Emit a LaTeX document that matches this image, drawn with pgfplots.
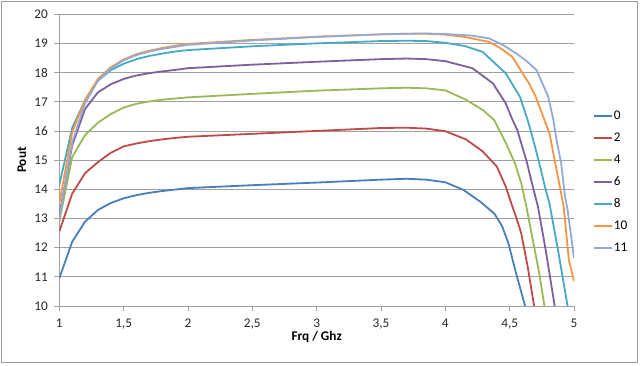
\documentclass[border=0pt]{standalone}
\usepackage{pgfplots}
\pgfplotsset{compat=1.18}
\usepackage{fontspec}
\setmainfont{Carlito}
\definecolor{s0}{HTML}{4A7EBB}
\definecolor{s2}{HTML}{BE4B48}
\definecolor{s4}{HTML}{98B954}
\definecolor{s6}{HTML}{7D60A0}
\definecolor{s8}{HTML}{46AAC5}
\definecolor{s10}{HTML}{F69544}
\definecolor{s11}{HTML}{95A9D6}
\definecolor{gridc}{HTML}{A0A0A0}
\definecolor{framec}{HTML}{999999}
\begin{document}
\begin{tikzpicture}
\useasboundingbox (0,0) rectangle (640bp,366bp);
\draw[framec, line width=0.8bp] (1.7bp,3.3bp) rectangle (637.3bp,364.3bp);
\begin{axis}[
  at={(59.3bp,60bp)}, anchor=south west,
  scale only axis, width=514.7bp, height=291.8bp,
  xmin=1, xmax=5, ymin=10, ymax=20,
  xtick={1,1.5,2,2.5,3,3.5,4,4.5,5},
  xticklabels={1,{1,5},2,{2,5},3,{3,5},4,{4,5},5},
  ytick={10,11,...,20},
  axis x line*=bottom, axis y line*=left,
  axis line style={gridc, line width=0.8bp, -},
  ymajorgrids, grid style={gridc, line width=0.8bp},
  tick align=outside, major tick length=5bp,
  tick style={gridc, line width=0.8bp},
  /pgf/number format/assume math mode=true,
  ticklabel style={font=\fontsize{13.3}{15}\selectfont, text=black!85},
  yticklabel style={xshift=-3bp},
  xticklabel style={yshift=-4bp},
  xlabel={\textbf{Frq / Ghz}}, ylabel={\textbf{Pout}},
  label style={font=\fontsize{13.3}{15}\selectfont},
  xlabel style={at={(axis description cs:0.5,0)}, anchor=north, yshift=-22bp},
  ylabel style={at={(axis description cs:-0.0725,0.5)}, anchor=center},
  legend style={at={(1,0.424)}, anchor=west, xshift=16bp, draw=none, fill=none,
    font=\fontsize{13.3}{15}\selectfont, row sep=9bp,
    nodes={inner sep=1bp, text height=9bp, text depth=2bp}},
  legend cell align=left,
  legend image code/.code={\draw[#1, line width=1.8bp] (0bp,0bp) -- (18bp,0bp);},
  every axis plot/.append style={line width=1.8bp, line join=round},
]
\addplot[s0] coordinates {(1,10.95)(1.1,12.2)(1.2,12.89)(1.3,13.29)(1.4,13.53)(1.5,13.69)(1.6,13.8)(1.7,13.88)(1.8,13.94)(1.9,13.99)(2,14.04)(2.5,14.14)(3,14.23)(3.5,14.33)(3.7,14.36)(3.85,14.33)(4,14.24)(4.14,13.98)(4.27,13.58)(4.38,13.17)(4.44,12.75)(4.49,12.15)(4.55,11.12)(4.62,10.0)(4.7,8.7)};
\addlegendentry{0}
\addplot[s2] coordinates {(1,12.55)(1.1,13.85)(1.2,14.55)(1.3,14.93)(1.4,15.25)(1.5,15.47)(1.6,15.57)(1.7,15.65)(1.8,15.71)(1.9,15.76)(2,15.8)(2.5,15.9)(3,16.0)(3.5,16.1)(3.7,16.11)(3.85,16.08)(4,15.99)(4.16,15.71)(4.29,15.3)(4.4,14.78)(4.47,14.09)(4.51,13.55)(4.55,13.05)(4.59,12.49)(4.64,11.35)(4.69,10.0)(4.75,8.8)};
\addlegendentry{2}
\addplot[s4] coordinates {(1,12.9)(1.1,15.1)(1.2,15.86)(1.3,16.28)(1.4,16.58)(1.5,16.8)(1.6,16.93)(1.7,17.01)(1.8,17.07)(1.9,17.11)(2,17.15)(2.5,17.27)(3,17.38)(3.5,17.46)(3.7,17.48)(3.85,17.46)(4,17.39)(4.16,17.07)(4.29,16.72)(4.38,16.37)(4.47,15.59)(4.54,14.9)(4.59,14.21)(4.63,13.4)(4.68,12.26)(4.73,11.12)(4.77,10.0)(4.82,8.8)};
\addlegendentry{4}
\addplot[s6] coordinates {(1,13.1)(1.1,15.5)(1.2,16.75)(1.3,17.32)(1.4,17.6)(1.5,17.78)(1.6,17.9)(1.7,17.98)(1.8,18.04)(1.9,18.09)(2,18.15)(2.5,18.27)(3,18.37)(3.5,18.46)(3.7,18.48)(3.85,18.46)(4,18.39)(4.21,18.15)(4.37,17.63)(4.47,16.94)(4.52,16.4)(4.56,16.02)(4.63,14.99)(4.68,14.09)(4.72,13.4)(4.78,11.92)(4.85,10.0)(4.9,8.8)};
\addlegendentry{6}
\addplot[s8] coordinates {(1,14.15)(1.1,16.1)(1.2,17.05)(1.3,17.72)(1.4,18.08)(1.5,18.3)(1.6,18.46)(1.7,18.57)(1.8,18.65)(1.9,18.72)(2,18.77)(2.5,18.9)(3,19.0)(3.5,19.08)(3.7,19.09)(3.85,19.08)(4,19.02)(4.15,18.91)(4.29,18.71)(4.47,17.97)(4.58,17.17)(4.64,16.37)(4.67,15.91)(4.73,14.9)(4.78,13.98)(4.81,13.5)(4.88,11.81)(4.95,10.0)(5,8.8)};
\addlegendentry{8}
\addplot[s10] coordinates {(1,13.5)(1.1,15.95)(1.2,17.06)(1.3,17.78)(1.4,18.18)(1.5,18.45)(1.6,18.63)(1.7,18.75)(1.8,18.84)(1.9,18.92)(2,18.98)(2.5,19.12)(3,19.23)(3.5,19.31)(3.7,19.33)(3.85,19.33)(4,19.3)(4.15,19.22)(4.34,19.05)(4.43,18.83)(4.52,18.54)(4.65,17.63)(4.7,17.2)(4.76,16.49)(4.81,15.91)(4.85,14.99)(4.89,14.09)(4.92,13.4)(4.96,11.58)(5,10.85)};
\addlegendentry{10}
\addplot[s11] coordinates {(1,13.0)(1.1,15.6)(1.2,16.95)(1.3,17.72)(1.4,18.14)(1.5,18.42)(1.6,18.6)(1.7,18.72)(1.8,18.81)(1.9,18.88)(2,18.95)(2.5,19.1)(3,19.22)(3.5,19.31)(3.7,19.33)(3.85,19.34)(4,19.32)(4.2,19.27)(4.34,19.17)(4.45,18.94)(4.55,18.66)(4.63,18.4)(4.71,18.08)(4.8,17.17)(4.84,16.37)(4.86,15.8)(4.9,14.9)(4.93,13.76)(4.95,13.3)(5,11.65)};
\addlegendentry{11}
\end{axis}
\end{tikzpicture}
\end{document}
